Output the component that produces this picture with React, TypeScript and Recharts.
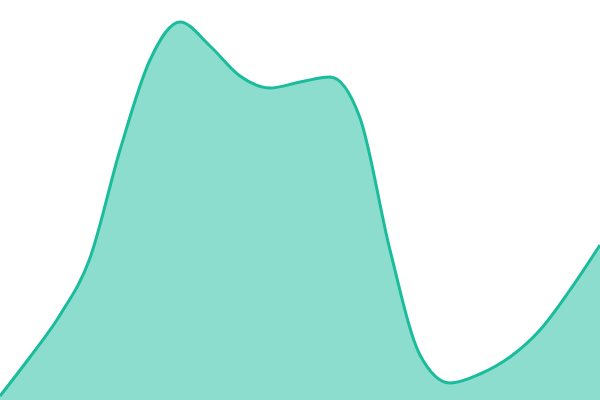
import { AreaChart, Area, XAxis, YAxis } from "recharts";

// 21 evenly spaced samples, values on a 0-100 scale
const steps = Array.from({ length: 21 }, (_, i) => `${i}`);
const values = [
  1, 10.75, 21.25, 35.5, 62.5, 85, 94.5, 88.5, 81, 78, 79.5,
  80.75, 70.5, 37.5, 11.25, 4.25, 6.5, 10.75, 17.5, 27.5, 38.75,
];

const data = steps.map((step, i) => ({ step, value: values[i] }));

export default function App() {
  return (
    <div style={{ position: "absolute", left: 0, top: 0, width: 600, height: 400 }}>
      <AreaChart width={600} height={400} data={data} margin={{ top: 0, right: 0, bottom: 0, left: 0 }}>
        <XAxis dataKey="step" hide />
        <YAxis hide domain={[0, 100]} />
        <Area
          type="monotone"
          dataKey="value"
          stroke="#1abc9c"
          strokeWidth={3}
          fill="#1abc9c"
          fillOpacity={0.5}
          dot={false}
          activeDot={false}
          isAnimationActive={false}
        />
      </AreaChart>
    </div>
  );
}
